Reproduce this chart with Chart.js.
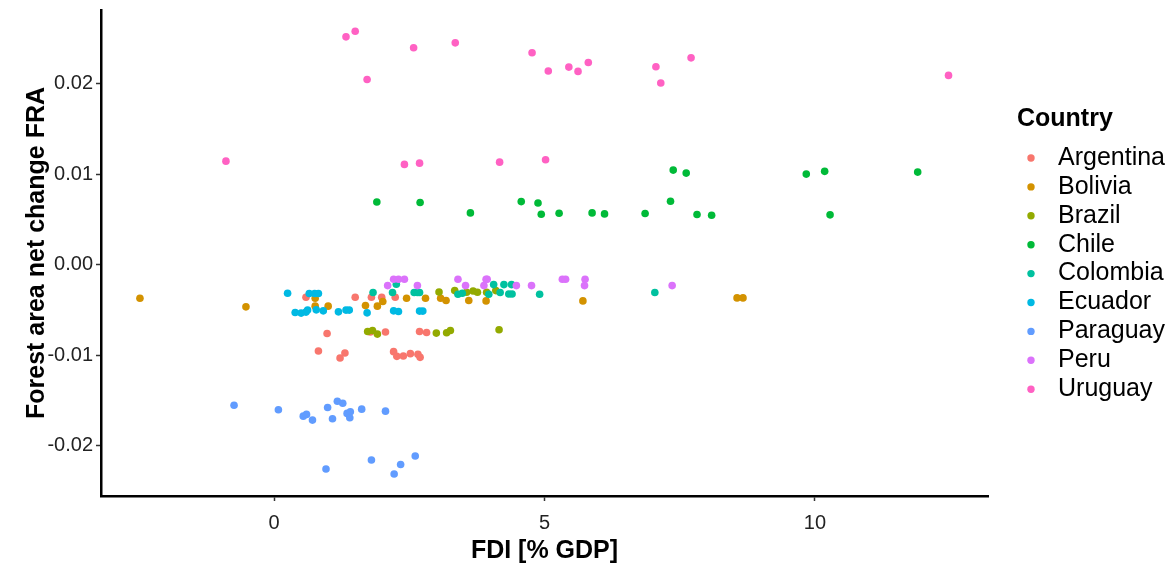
<!DOCTYPE html>
<html>
<head>
<meta charset="utf-8">
<title>FDI vs forest area net change</title>
<script src="https://cdn.jsdelivr.net/npm/chart.js@4.4.1/dist/chart.umd.min.js"></script>
<style>
  html, body { margin: 0; padding: 0; background: #fff; }
  #wrap { width: 1173px; height: 566px; position: relative; }
</style>
</head>
<body>
<div id="wrap"><canvas id="fdiChart"></canvas></div>
<script>
// FDI [% GDP] vs forest area net change (FRA), one series per country: [x, y]
const countries = ['Argentina','Bolivia','Brazil','Chile','Colombia','Ecuador','Paraguay','Peru','Uruguay'];
const colors = ['#F8766D','#D39200','#93AA00','#00BA38','#00C19F','#00B9E3','#619CFF','#DB72FB','#FF61C3'];

const argentina = [[0.59,-0.00359],[0.98,-0.00760],[0.82,-0.00954],[1.22,-0.01031],[1.31,-0.00976],
  [1.50,-0.00359],[1.80,-0.00359],[1.99,-0.00359],[2.24,-0.00359],[1.78,-0.00744],[2.06,-0.00744],
  [2.69,-0.00738],[2.82,-0.00749],[2.21,-0.00961],[2.27,-0.01013],[2.39,-0.01009],[2.52,-0.00983],
  [2.66,-0.00991],[2.70,-0.01024]];
const bolivia = [[-2.48,-0.00370],[-0.52,-0.00466],[0.76,-0.00370],[0.76,-0.00458],[1.00,-0.00458],
  [1.69,-0.00452],[1.91,-0.00458],[2.01,-0.00407],[2.45,-0.00370],[2.80,-0.00370],[3.08,-0.00370],
  [3.18,-0.00396],[3.60,-0.00396],[3.92,-0.00400],[5.71,-0.00400],[8.56,-0.00367],[8.67,-0.00367]];
const brazil = [[3.05,-0.00301],[3.34,-0.00286],[3.56,-0.00304],[3.68,-0.00290],[3.76,-0.00304],
  [3.93,-0.00304],[4.10,-0.00286],[1.73,-0.00738],[1.82,-0.00727],[1.91,-0.00767],[3.00,-0.00756],
  [3.19,-0.00752],[3.26,-0.00727],[4.16,-0.00719]];
const chile = [[1.90,0.00694],[2.70,0.00687],[3.63,0.00573],[4.57,0.00698],[4.88,0.00683],[4.94,0.00558],
  [5.27,0.00569],[5.88,0.00573],[6.11,0.00562],[6.86,0.00566],[7.33,0.00702],[7.38,0.01046],
  [7.62,0.01013],[7.82,0.00555],[8.09,0.00547],[9.84,0.01002],[10.18,0.01032],[10.28,0.00551],
  [11.90,0.01024]];
const colombia = [[2.26,-0.00216],[1.83,-0.00308],[2.19,-0.00308],[2.59,-0.00308],[2.65,-0.00308],
  [2.69,-0.00308],[4.06,-0.00220],[4.25,-0.00220],[4.39,-0.00220],[3.40,-0.00326],[3.48,-0.00315],
  [3.97,-0.00326],[4.18,-0.00308],[4.34,-0.00323],[4.40,-0.00323],[4.91,-0.00326],[7.04,-0.00308]];
const ecuador = [[0.25,-0.00315],[0.65,-0.00319],[0.75,-0.00319],[0.82,-0.00319],[0.39,-0.00529],
  [0.50,-0.00535],[0.59,-0.00524],[0.62,-0.00502],[0.78,-0.00499],[0.91,-0.00510],[1.19,-0.00521],
  [1.33,-0.00502],[1.39,-0.00502],[1.72,-0.00532],[2.21,-0.00510],[2.30,-0.00518],[2.69,-0.00513],
  [2.75,-0.00513]];
const paraguay = [[-0.74,-0.01553],[0.08,-0.01604],[0.54,-0.01674],[0.60,-0.01655],[0.71,-0.01718],
  [0.99,-0.01578],[1.08,-0.01703],[1.17,-0.01509],[1.27,-0.01531],[1.35,-0.01644],[1.41,-0.01626],
  [1.40,-0.01692],[1.62,-0.01597],[2.06,-0.01619],[0.96,-0.02258],[1.80,-0.02159],[2.22,-0.02313],
  [2.34,-0.02209],[2.61,-0.02115]];
const peru = [[2.21,-0.00161],[2.30,-0.00161],[2.41,-0.00161],[2.10,-0.00231],[2.65,-0.00231],
  [3.40,-0.00161],[3.54,-0.00231],[3.92,-0.00161],[3.94,-0.00161],[3.88,-0.00231],[4.48,-0.00231],
  [4.76,-0.00231],[5.33,-0.00161],[5.39,-0.00161],[5.75,-0.00161],[5.74,-0.00231],[7.36,-0.00231]];
const uruguay = [[-0.89,0.01145],[1.33,0.02519],[1.50,0.02581],[1.72,0.02048],[2.41,0.01109],
  [2.58,0.02398],[2.69,0.01123],[3.35,0.02453],[4.17,0.01134],[4.77,0.02343],[5.02,0.01161],
  [5.07,0.02141],[5.45,0.02185],[5.62,0.02137],[5.81,0.02236],[7.06,0.02188],[7.15,0.02009],
  [7.71,0.02287],[12.47,0.02093]];

const series = [argentina, bolivia, brazil, chile, colombia, ecuador, paraguay, peru, uruguay];
const xTicks = [0, 5, 10];
const yTicks = [-0.02, -0.01, 0, 0.01, 0.02];

const FONT = "'Liberation Sans', Arial, Helvetica, sans-serif";

// legend drawn to the right of the plot, ggplot style
const sideLegend = {
  id: 'sideLegend',
  afterDraw(chart) {
    const ctx = chart.ctx;
    const x0 = chart.chartArea.right;
    ctx.save();
    ctx.textBaseline = 'middle';
    ctx.textAlign = 'left';
    ctx.fillStyle = '#000';
    ctx.font = 'bold 25px ' + FONT;
    ctx.fillText('Country', x0 + 29, 119);
    ctx.font = '25px ' + FONT;
    chart.data.datasets.forEach((ds, i) => {
      const y = 158 + i * 28.9;
      ctx.fillStyle = ds.backgroundColor;
      ctx.beginPath();
      ctx.arc(x0 + 43, y, 3.7, 0, Math.PI * 2);
      ctx.fill();
      ctx.fillStyle = '#000';
      ctx.fillText(ds.label, x0 + 70, y);
    });
    ctx.restore();
  }
};

const datasets = countries.map((name, i) => ({
  label: name,
  data: series[i].map(p => ({ x: p[0], y: p[1] })),
  backgroundColor: colors[i],
  borderWidth: 0,
  pointRadius: 3.8,
  pointHoverRadius: 3.8,
  order: countries.length - i
}));

new Chart(document.getElementById('fdiChart'), {
  type: 'scatter',
  data: { datasets },
  plugins: [sideLegend],
  options: {
    responsive: true,
    maintainAspectRatio: false,
    animation: false,
    layout: { padding: { left: 0, top: 10, right: 185, bottom: 0 } },
    plugins: { legend: { display: false }, tooltip: { enabled: false } },
    scales: {
      x: {
        type: 'linear',
        min: -3.2,
        max: 13.2,
        afterFit(scale) {
          scale.height = 70;
          scale.paddingLeft = 0;
          scale.paddingRight = 0;
        },
        afterBuildTicks(scale) { scale.ticks = xTicks.map(v => ({ value: v })); },
        border: { display: true, color: '#000', width: 2.5 },
        grid: { drawOnChartArea: false, drawTicks: true, tickLength: 5, tickColor: '#333', tickWidth: 1.5 },
        ticks: { color: '#222', font: { family: FONT, size: 20 }, padding: 10, maxRotation: 0 },
        title: { display: true, text: 'FDI [% GDP]', color: '#000',
          font: { family: FONT, size: 25, weight: 'bold' }, padding: { top: 0, bottom: 0 } }
      },
      y: {
        type: 'linear',
        min: -0.02557,
        max: 0.02816,
        afterFit(scale) {
          scale.width = 101;
          scale.paddingTop = 0;
          scale.paddingBottom = 0;
        },
        afterBuildTicks(scale) { scale.ticks = yTicks.map(v => ({ value: v })); },
        border: { display: true, color: '#000', width: 2.5 },
        grid: { drawOnChartArea: false, drawTicks: true, tickLength: 5, tickColor: '#333', tickWidth: 1.5 },
        ticks: { color: '#222', font: { family: FONT, size: 20 }, padding: 3,
          callback: v => v.toFixed(2) },
        title: { display: true, text: 'Forest area net change FRA', color: '#000',
          font: { family: FONT, size: 25, weight: 'bold' }, padding: { top: 22, bottom: 0 } }
      }
    }
  }
});
</script>
</body>
</html>
